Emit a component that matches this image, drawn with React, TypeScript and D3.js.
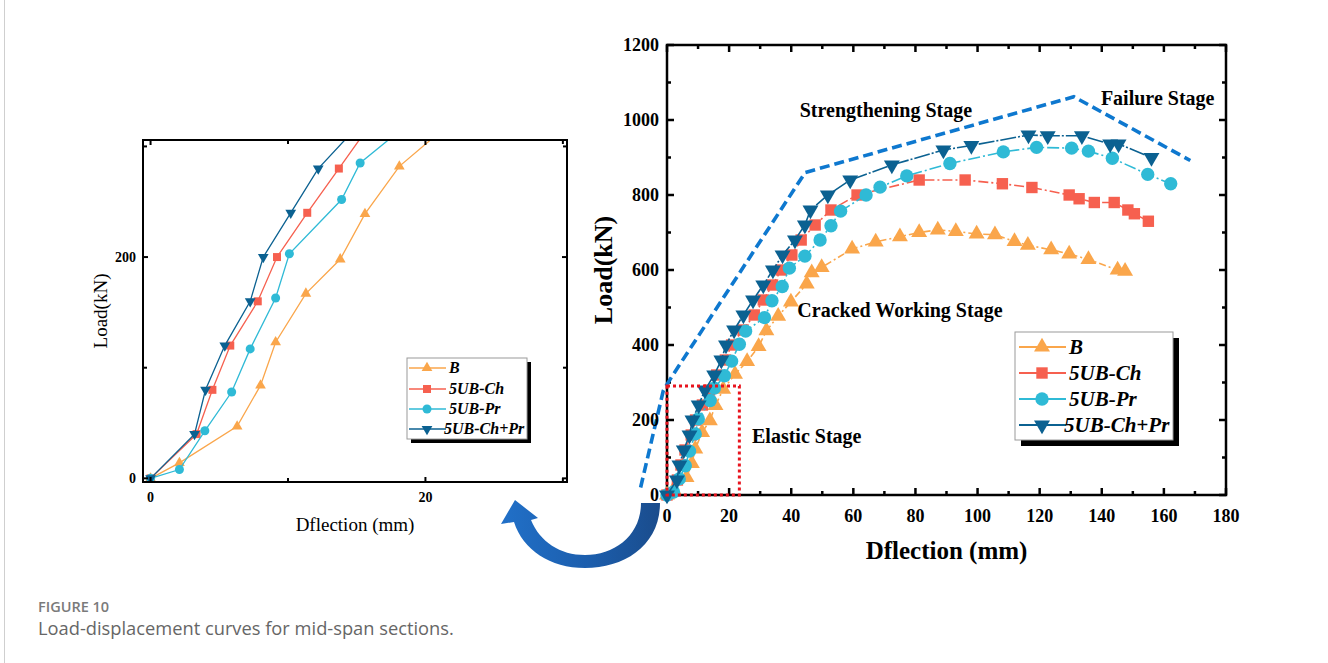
import React from "react";
import * as d3 from "d3";

// series
const seriesNames = ["B", "5UB-Ch", "5UB-Pr", "5UB-Ch+Pr"];
const seriesColors = ["#FAA64B", "#F6604F", "#2FBAD6", "#0B6191"];

const deflB = [0, 2.1, 6.3, 8.0, 9.1, 11.3, 13.8, 15.6, 18.1, 21.9, 25.8, 29.5, 32.0, 35.8, 39.9, 45.0, 46.6, 49.8, 59.6, 67.2, 75.0, 81.2, 87.2, 93.0, 99.7, 105.6, 111.9, 116.2, 123.7, 129.5, 135.7, 145.1, 147.5];
const loadB = [0, 14, 47, 84, 123, 167, 198, 239, 282, 322, 356, 396, 438, 477, 515, 563, 593, 607, 656, 675, 689, 700, 707, 703, 696, 694, 676, 666, 654, 643, 628, 600, 597];

const deflCh = [0, 3.35, 4.5, 5.8, 7.8, 9.2, 11.4, 13.7, 16.0, 18.8, 20.8, 24.5, 28.1, 31.0, 34.0, 36.8, 40.2, 43.2, 47.7, 52.8, 61.2, 81.2, 96.0, 108.0, 117.5, 129.5, 132.7, 137.6, 144.0, 148.4, 150.5, 155.0];
const loadCh = [0, 40, 80, 120, 160, 200, 240, 280, 320, 360, 400, 440, 480, 520, 560, 600, 640, 680, 720, 760, 800, 840, 840, 830, 820, 800, 790, 780, 780, 760, 750, 730];

const deflPr = [0, 2.1, 3.95, 5.9, 7.25, 9.1, 10.1, 13.9, 15.25, 18.5, 20.8, 23.3, 25.3, 31.4, 33.8, 37.1, 39.4, 44.4, 49.3, 52.8, 55.9, 64.1, 68.6, 77.2, 91.1, 108.3, 119.0, 130.3, 135.7, 143.4, 154.8, 162.2];
const loadPr = [0, 8, 43, 78, 117, 163, 203, 252, 285, 318, 357, 402, 437, 473, 518, 556, 605, 637, 680, 718, 757, 800, 821, 851, 884, 915, 927, 925, 917, 898, 855, 830];

const deflChPr = [0, 3.2, 4.0, 5.4, 7.25, 8.2, 10.2, 12.2, 15.2, 17.5, 19.0, 21.6, 24.6, 27.7, 31.0, 34.1, 37.2, 41.2, 44.4, 46.2, 51.8, 59.0, 72.4, 89.0, 98.0, 116.4, 122.6, 133.6, 142.7, 145.4, 156.0];
const loadChPr = [0, 40, 80, 120, 160, 200, 240, 280, 320, 360, 400, 440, 480, 520, 560, 600, 640, 680, 720, 760, 800, 840, 880, 920, 932, 960, 958, 958, 936, 936, 900];

// stage envelope (dashed blue) and elastic box
const envelopeDefl = [-8.5, -1.2, 0, 1.5, 44.5, 131, 168.5];
const envelopeLoad = [20, 278, 295, 315, 860, 1062, 892];
const elasticDefl = [0, 23.3];
const elasticLoad = [0, 291];

const stageLabels = ["Strengthening Stage", "Failure Stage", "Cracked Working Stage", "Elastic Stage"];
const stageDefl = [70.5, 158, 75, 45];
const stageLoad = [1008, 1040, 475, 139];

// ticks
const mainXTickLabels = [0, 20, 40, 60, 80, 100, 120, 140, 160, 180];
const mainYTickLabels = [0, 200, 400, 600, 800, 1000, 1200];
const insetXTickLabels = [0, 20];
const insetYTickLabels = [0, 200];

const seriesDefl = [deflB, deflCh, deflPr, deflChPr];
const seriesLoad = [loadB, loadCh, loadPr, loadChPr];
const symbolTypes = [d3.symbolTriangle, d3.symbolSquare, d3.symbolCircle, d3.symbolTriangle];
const symbolRotate = [0, 0, 0, 180];
const mainDash = ["7,3,2,3", "10,3,2,3", "12,3,2,3", "16,2,2,2"];
const mainSizes = [110, 130, 140, 110];
const insetSizes = [50, 64, 64, 50];

const SERIF = "'Liberation Serif', 'Times New Roman', serif";
const SANS = "'Open Sans', 'Noto Sans', sans-serif";

const M = { left: 667, right: 1226, top: 45, bottom: 495 };
const I = { left: 143, right: 567, top: 140, bottom: 482 };

function Marker({ i, cx, cy, size }) {
  const p = d3.symbol().type(symbolTypes[i]).size(size)();
  return (
    <path
      d={p}
      fill={seriesColors[i]}
      transform={`translate(${cx},${cy}) rotate(${symbolRotate[i]})`}
    />
  );
}

function Frame({ box, x, y, xMajor, xMinor, yMajor, yMinor, major, minor, sw }) {
  const t = [];
  xMajor.concat(xMinor).forEach((v, k) => {
    const len = k < xMajor.length ? major : minor;
    t.push(<line key={"xb" + k} x1={x(v)} x2={x(v)} y1={box.bottom} y2={box.bottom - len} />);
    t.push(<line key={"xt" + k} x1={x(v)} x2={x(v)} y1={box.top} y2={box.top + len} />);
  });
  yMajor.concat(yMinor).forEach((v, k) => {
    const len = k < yMajor.length ? major : minor;
    t.push(<line key={"yl" + k} y1={y(v)} y2={y(v)} x1={box.left} x2={box.left + len} />);
    t.push(<line key={"yr" + k} y1={y(v)} y2={y(v)} x1={box.right} x2={box.right - len} />);
  });
  return (
    <g stroke="#000" strokeWidth={sw} fill="none">
      <rect x={box.left} y={box.top} width={box.right - box.left} height={box.bottom - box.top} />
      {t}
    </g>
  );
}

function MainChart() {
  const x = d3.scaleLinear().domain([0, 180]).range([M.left, M.right]);
  const y = d3.scaleLinear().domain([0, 1200]).range([M.bottom, M.top]);
  const line = d3.line().x((d) => x(d[0])).y((d) => y(d[1]));
  const xMajor = x.ticks(9);
  const xMinor = x.ticks(18).filter((v) => !xMajor.includes(v));
  const yMajor = y.ticks(6);
  const yMinor = y.ticks(12).filter((v) => !yMajor.includes(v));
  const env = envelopeDefl.map((d, k) => [d, envelopeLoad[k]]);

  const lg = { x: 1015, y: 332, w: 158, h: 108 };
  const rows = [347, 373, 399, 425];

  return (
    <g>
      <Frame box={M} x={x} y={y} xMajor={xMajor} xMinor={xMinor} yMajor={yMajor} yMinor={yMinor} major={7} minor={4} sw={2.5} />
      {seriesNames.map((n, i) => {
        const pts = seriesDefl[i].map((d, k) => [d, seriesLoad[i][k]]);
        return (
          <g key={n}>
            <path d={line(pts)} fill="none" stroke={seriesColors[i]} strokeWidth={1.6} strokeDasharray={mainDash[i]} />
            {pts.map((p, k) => (
              <Marker key={k} i={i} cx={x(p[0])} cy={y(p[1])} size={mainSizes[i]} />
            ))}
          </g>
        );
      })}
      <path d={line(env)} fill="none" stroke="#0E78CF" strokeWidth={3.6} strokeDasharray="10,5" />
      <rect
        x={x(elasticDefl[0])}
        y={y(elasticLoad[1])}
        width={x(elasticDefl[1]) - x(elasticDefl[0])}
        height={y(elasticLoad[0]) - y(elasticLoad[1])}
        fill="none"
        stroke="#E8141E"
        strokeWidth={3}
        strokeDasharray="3,3"
      />
      {stageLabels.map((s, k) => (
        <text key={s} x={x(stageDefl[k])} y={y(stageLoad[k])} textAnchor="middle" fontFamily={SERIF} fontWeight="bold" fontSize={20}>
          {s}
        </text>
      ))}
      {mainXTickLabels.map((v) => (
        <text key={v} x={x(v)} y={522} textAnchor="middle" fontFamily={SERIF} fontWeight="bold" fontSize={18}>{v}</text>
      ))}
      {mainYTickLabels.map((v) => (
        <text key={v} x={659} y={y(v) + 6} textAnchor="end" fontFamily={SERIF} fontWeight="bold" fontSize={18}>{v}</text>
      ))}
      <text transform={`translate(612,270) rotate(-90)`} textAnchor="middle" fontFamily={SERIF} fontWeight="bold" fontSize={26}>Load(kN)</text>
      <text x={(M.left + M.right) / 2} y={559} textAnchor="middle" fontFamily={SERIF} fontWeight="bold" fontSize={25}>Dflection (mm)</text>
      {/* legend */}
      <rect x={lg.x + 6} y={lg.y + 6} width={lg.w} height={lg.h} fill="#000" />
      <rect x={lg.x} y={lg.y} width={lg.w} height={lg.h} fill="#fff" stroke="#9a9a9a" strokeWidth={1} />
      {seriesNames.map((n, i) => (
        <g key={n}>
          <line x1={1019} x2={1066} y1={rows[i]} y2={rows[i]} stroke={seriesColors[i]} strokeWidth={1.8} />
          <Marker i={i} cx={1042} cy={rows[i]} size={mainSizes[i]} />
          <text x={i === 3 ? 1064 : 1069} y={rows[i] + 7} fontFamily={SERIF} fontWeight="bold" fontStyle="italic" fontSize={21}>{n}</text>
        </g>
      ))}
    </g>
  );
}

function InsetChart() {
  const x = d3.scaleLinear().domain([-0.55, 30.3]).range([I.left, I.right]);
  const y = d3.scaleLinear().domain([-3.3, 305.8]).range([I.bottom, I.top]);
  const line = d3.line().x((d) => x(d[0])).y((d) => y(d[1]));
  const xAll = x.ticks(3);
  const yAll = y.ticks(3);
  const lg = { x: 407, y: 358, w: 120, h: 81 };
  const rows = [368, 389, 409, 429];
  return (
    <g>
      <defs>
        <clipPath id="insetClip">
          <rect x={I.left} y={I.top} width={I.right - I.left} height={I.bottom - I.top} />
        </clipPath>
      </defs>
      <g clipPath="url(#insetClip)">
        {seriesNames.map((n, i) => {
          const pts = seriesDefl[i].map((d, k) => [d, seriesLoad[i][k]]);
          return (
            <g key={n}>
              <path d={line(pts)} fill="none" stroke={seriesColors[i]} strokeWidth={1.3} />
              {pts.map((p, k) => (
                <Marker key={k} i={i} cx={x(p[0])} cy={y(p[1])} size={insetSizes[i]} />
              ))}
            </g>
          );
        })}
      </g>
      <Frame
        box={I}
        x={x}
        y={y}
        xMajor={xAll.filter((v) => v % 20 === 0)}
        xMinor={xAll.filter((v) => v % 20 !== 0)}
        yMajor={yAll.filter((v) => v % 200 === 0)}
        yMinor={yAll.filter((v) => v % 200 !== 0)}
        major={5}
        minor={4}
        sw={2}
      />
      {insetXTickLabels.map((v) => (
        <text key={v} x={x(v)} y={502} textAnchor="middle" fontFamily={SERIF} fontWeight="bold" fontSize={14}>{v}</text>
      ))}
      {insetYTickLabels.map((v) => (
        <text key={v} x={136} y={y(v) + 5} textAnchor="end" fontFamily={SERIF} fontWeight="bold" fontSize={14}>{v}</text>
      ))}
      <text transform={`translate(107,${(I.top + I.bottom) / 2}) rotate(-90)`} textAnchor="middle" fontFamily={SERIF} fontSize={19}>Load(kN)</text>
      <text x={(I.left + I.right) / 2} y={531} textAnchor="middle" fontFamily={SERIF} fontSize={19}>Dflection (mm)</text>
      <rect x={lg.x + 4} y={lg.y + 4} width={lg.w} height={lg.h} fill="#000" />
      <rect x={lg.x} y={lg.y} width={lg.w} height={lg.h} fill="#fff" stroke="#9a9a9a" strokeWidth={1} />
      {seriesNames.map((n, i) => (
        <g key={n}>
          <line x1={409} x2={446} y1={rows[i]} y2={rows[i]} stroke={seriesColors[i]} strokeWidth={1.3} />
          <Marker i={i} cx={427} cy={rows[i]} size={insetSizes[i]} />
          <text x={i === 3 ? 444 : 449} y={rows[i] + 5} fontFamily={SERIF} fontWeight="bold" fontStyle="italic" fontSize={16}>{n}</text>
        </g>
      ))}
    </g>
  );
}

export default function App() {
  return (
    <svg width={1328} height={663} style={{ position: "absolute", left: 0, top: 0, background: "#fff" }}>
      <defs>
        <linearGradient id="arrowGrad" x1="0" x2="1" y1="0" y2="0">
          <stop offset="0%" stopColor="#2170C8" />
          <stop offset="55%" stopColor="#1C5EAD" />
          <stop offset="100%" stopColor="#1A4C8C" />
        </linearGradient>
      </defs>
      <line x1={4.5} x2={4.5} y1={0} y2={663} stroke="#cfcfcf" strokeWidth={1} />
      <InsetChart />
      <MainChart />
      <path
        d="M 660 503 C 660 545 625 568 585 568 C 550 568 523 550 514 522 L 501 524 L 515 500 L 538 518 L 531 520 C 540 542 560 555 585 555 C 615 555 641 535 641 503 Z"
        fill="url(#arrowGrad)"
      />
      <text x={38} y={612} fontFamily={SANS} fontSize={14.5} fontWeight={600} fill="#7a7a7a">FIGURE 10</text>
      <text x={38} y={635} fontFamily={SANS} fontSize={18.3} fill="#666">Load-displacement curves for mid-span sections.</text>
    </svg>
  );
}
